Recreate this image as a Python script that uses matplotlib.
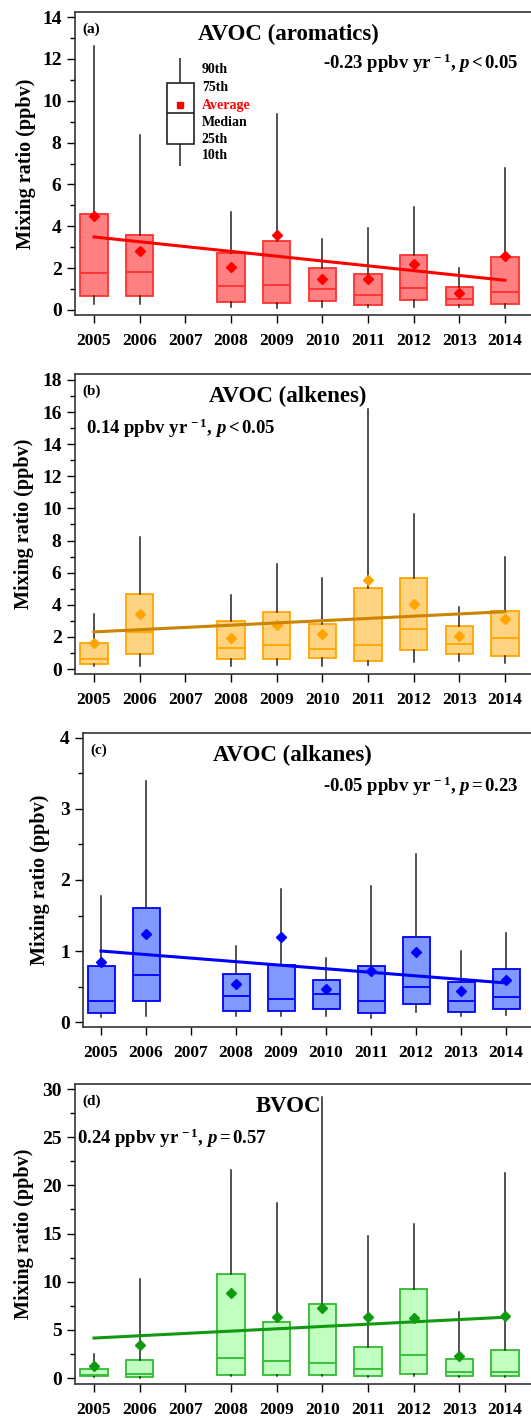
import numpy as np
import matplotlib
matplotlib.use("Agg")
import matplotlib.pyplot as plt
from matplotlib.patches import Rectangle
from matplotlib.ticker import MultipleLocator

plt.rcParams['font.family'] = 'Liberation Serif'
plt.rcParams['font.weight'] = 'bold'
plt.rcParams['mathtext.fontset'] = 'custom'
plt.rcParams['mathtext.rm'] = 'Liberation Serif:bold'
plt.rcParams['mathtext.bf'] = 'Liberation Serif:bold'
plt.rcParams['mathtext.it'] = 'Liberation Serif:italic:bold'

years = [2005, 2006, 2008, 2009, 2010, 2011, 2012, 2013, 2014]
year_ticks = list(range(2005, 2015))

# percentiles per year: 10th, 25th, median, 75th, 90th, and mean
aro_p10 = [0.29, 0.27, 0.13, 0.08, 0.16, 0.13, 0.16, 0.13, 0.08]
aro_p25 = [0.67, 0.69, 0.40, 0.33, 0.41, 0.26, 0.48, 0.22, 0.29]
aro_med = [1.79, 1.83, 1.13, 1.20, 0.99, 0.70, 1.04, 0.54, 0.88]
aro_p75 = [4.58, 3.56, 2.70, 3.29, 1.99, 1.72, 2.65, 1.10, 2.55]
aro_p90 = [12.6, 8.37, 4.67, 9.36, 3.41, 3.94, 4.94, 1.99, 6.78]
aro_mean = [4.47, 2.81, 2.06, 3.57, 1.48, 1.50, 2.19, 0.80, 2.58]

alk_p10 = [0.17, 0.21, 0.21, 0.27, 0.17, 0.27, 0.44, 0.48, 0.37]
alk_p25 = [0.31, 0.91, 0.60, 0.62, 0.66, 0.50, 1.18, 0.93, 0.79]
alk_med = [0.62, 2.32, 1.31, 1.51, 1.27, 1.51, 2.51, 1.56, 1.93]
alk_p75 = [1.60, 4.65, 2.97, 3.53, 2.80, 5.04, 5.68, 2.66, 3.59]
alk_p90 = [3.44, 8.24, 4.63, 6.54, 5.66, 16.2, 9.67, 3.86, 6.99]
alk_mean = [1.64, 3.40, 1.95, 2.76, 2.20, 5.56, 4.05, 2.05, 3.13]

ane_p10 = [0.07, 0.09, 0.08, 0.09, 0.08, 0.06, 0.14, 0.09, 0.10]
ane_p25 = [0.13, 0.29, 0.15, 0.15, 0.18, 0.13, 0.26, 0.14, 0.19]
ane_med = [0.30, 0.66, 0.37, 0.33, 0.39, 0.30, 0.50, 0.30, 0.35]
ane_p75 = [0.79, 1.60, 0.68, 0.80, 0.59, 0.79, 1.20, 0.57, 0.75]
ane_p90 = [1.77, 3.40, 1.07, 1.88, 0.90, 1.92, 2.36, 1.00, 1.25]
ane_mean = [0.84, 1.24, 0.53, 1.20, 0.46, 0.72, 0.99, 0.44, 0.59]

bvoc_p10 = [0.10, 0.03, 0.17, 0.17, 0.17, 0.10, 0.17, 0.10, 0.10]
bvoc_p25 = [0.17, 0.10, 0.35, 0.28, 0.28, 0.21, 0.38, 0.24, 0.17]
bvoc_med = [0.35, 0.42, 2.08, 1.73, 1.56, 0.90, 2.39, 0.66, 0.62]
bvoc_p75 = [0.93, 1.90, 10.76, 5.78, 7.72, 3.18, 9.24, 1.97, 2.94]
bvoc_p90 = [2.53, 10.28, 21.6, 18.2, 29.2, 14.7, 16.0, 6.89, 21.3]
bvoc_mean = [1.25, 3.39, 8.79, 6.33, 7.27, 6.37, 6.23, 2.25, 6.44]

# linear trends (ppbv/yr) and fitted value at 2005
trend_slope = [-0.23, 0.14, -0.05, 0.24]
trend_start = [3.49, 2.31, 1.00, 4.15]

W, H = 531, 1417
fig = plt.figure(figsize=(W / 100, H / 100), dpi=100)


def px_axes(left, top, right, bottom):
    return fig.add_axes([left / W, 1 - bottom / H, (right - left) / W, (bottom - top) / H])


panels = [
    dict(box=(74.8, 12, 533.3, 315), xlim=(2004.58, 2014.62), ylim=(-0.24, 14.24),
         major=2, minor=1, data=(aro_p10, aro_p25, aro_med, aro_p75, aro_p90, aro_mean),
         fill='#FF8080', edge='#FF3030', mcol='#FF0000', tcol='#FF0000',
         tag='(a)', title='AVOC (aromatics)',
         trend=r'-0.23 ppbv yr$^{\,-1}$, $p\,$<$\,$0.05', tpos=(0.968, 0.83), tha='right',
         ylab_x=-0.085),
    dict(box=(74.8, 374, 533.3, 674), xlim=(2004.58, 2014.62), ylim=(-0.31, 18.37),
         major=2, minor=1, data=(alk_p10, alk_p25, alk_med, alk_p75, alk_p90, alk_mean),
         fill='#FFD37F', edge='#FFA500', mcol='#FFA500', tcol='#CC8400',
         tag='(b)', title='AVOC (alkenes)',
         trend=r'0.14 ppbv yr$^{\,-1}$, $p\,$<$\,$0.05', tpos=(0.025, 0.82), tha='left',
         ylab_x=-0.09),
    dict(box=(83, 733, 534, 1027), xlim=(2004.6, 2014.62), ylim=(-0.07, 4.07),
         major=1, minor=0.5, data=(ane_p10, ane_p25, ane_med, ane_p75, ane_p90, ane_mean),
         fill='#8099FF', edge='#0000FF', mcol='#0000FF', tcol='#0000FF',
         tag='(c)', title='AVOC (alkanes)',
         trend=r'-0.05 ppbv yr$^{\,-1}$, $p\,$=$\,$0.23', tpos=(0.965, 0.82), tha='right',
         ylab_x=-0.073),
    dict(box=(74.8, 1084, 533.3, 1384), xlim=(2004.58, 2014.62), ylim=(-0.62, 30.52),
         major=5, minor=2.5, data=(bvoc_p10, bvoc_p25, bvoc_med, bvoc_p75, bvoc_p90, bvoc_mean),
         fill='#C0FFC0', edge='#33BB33', mcol='#119911', tcol='#119911',
         tag='(d)', title='BVOC',
         trend=r'0.24 ppbv yr$^{\,-1}$, $p\,$=$\,$0.57', tpos=(0.004, 0.82), tha='left',
         ylab_x=-0.09),
]

for i, p in enumerate(panels):
    ax = px_axes(*p['box'])
    p10, p25, med, p75, p90, mean = p['data']
    stats = []
    for k in range(len(years)):
        stats.append(dict(whislo=p10[k], q1=p25[k], med=med[k], q3=p75[k],
                          whishi=p90[k], mean=mean[k], fliers=[]))
    ax.bxp(stats, positions=years, widths=0.6, patch_artist=True, showcaps=False,
           showmeans=True, showfliers=False, manage_ticks=False,
           boxprops=dict(facecolor=p['fill'], edgecolor=p['edge'], linewidth=1.3),
           medianprops=dict(color=p['edge'], linewidth=1.3),
           whiskerprops=dict(color='#222222', linewidth=1.1),
           meanprops=dict(marker='D', markersize=5.5, markerfacecolor=p['mcol'],
                          markeredgecolor=p['mcol']))

    # trend line
    tx = np.array([2005, 2014])
    ty = trend_start[i] + trend_slope[i] * (tx - 2005)
    ax.plot(tx, ty, color=p['tcol'], lw=2.2, zorder=5)

    ax.set_xlim(*p['xlim'])
    ax.set_ylim(*p['ylim'])
    ax.set_xticks(year_ticks)
    ax.set_xticklabels([str(y) for y in year_ticks], fontsize=12.5, fontweight='bold')
    ax.yaxis.set_major_locator(MultipleLocator(p['major']))
    ax.yaxis.set_minor_locator(MultipleLocator(p['minor']))
    ax.tick_params(axis='y', which='major', labelsize=14, length=6, width=1, direction='out')
    ax.tick_params(axis='y', which='minor', length=3.5, width=1, direction='out')
    ax.tick_params(axis='x', which='major', length=6, width=1, direction='out', pad=7)
    for lab in ax.get_yticklabels():
        lab.set_fontweight('bold')
    for sp in ax.spines.values():
        sp.set_linewidth(1.2)
        sp.set_color('#333333')
    ax.set_ylabel('Mixing ratio (ppbv)', fontsize=14.5, fontweight='bold')
    ax.yaxis.set_label_coords(p['ylab_x'], 0.5)

    ax.text(0.017, 0.965, p['tag'], transform=ax.transAxes, fontsize=11,
            fontweight='bold', va='top', ha='left')
    ax.text(0.465, 0.925, p['title'], transform=ax.transAxes, fontsize=16.5,
            fontweight='bold', va='center', ha='center')
    ax.text(p['tpos'][0], p['tpos'][1], p['trend'], transform=ax.transAxes,
            fontsize=13.5, fontweight='bold', va='center', ha=p['tha'])

    if i == 0:
        # key for the box elements
        ax.vlines(2006.89, 6.88, 12.04, color='#222222', lw=1.1)
        ax.add_patch(Rectangle((2006.59, 7.93), 0.59, 10.85 - 7.93,
                               facecolor='white', edgecolor='#222222', lw=1.2, zorder=3))
        ax.hlines(9.41, 2006.59, 2007.18, color='#222222', lw=1.2, zorder=4)
        ax.plot([2006.89], [9.79], marker='s', ms=4.5, color='#FF0000', zorder=5)
        key_lab = ['90th', '75th', 'Average', 'Median', '25th', '10th']
        key_y = [11.47, 10.65, 9.79, 8.98, 8.17, 7.36]
        for lab, yy in zip(key_lab, key_y):
            ax.text(2007.36, yy, lab, fontsize=10, fontweight='bold', va='center',
                    ha='left', color='#FF0000' if lab == 'Average' else 'black')

fig.savefig('out.png', dpi=100)
